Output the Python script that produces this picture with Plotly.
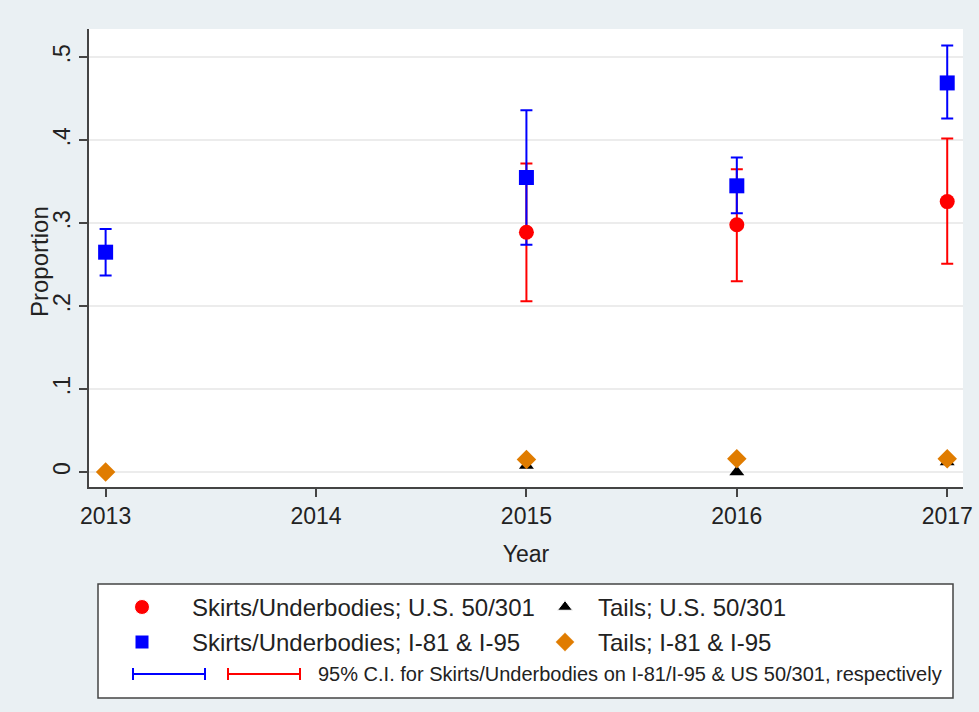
import plotly.graph_objects as go

# ---- data ----
years_blue = [2013, 2015, 2016, 2017]
skirts_i81 = [0.265, 0.355, 0.345, 0.469]
skirts_i81_lo = [0.237, 0.274, 0.312, 0.426]
skirts_i81_hi = [0.293, 0.436, 0.379, 0.514]

years_red = [2015, 2016, 2017]
skirts_us50 = [0.289, 0.298, 0.326]
skirts_us50_lo = [0.206, 0.230, 0.251]
skirts_us50_hi = [0.372, 0.365, 0.402]

years_tails_us = [2015, 2016, 2017]
tails_us50 = [0.008, 0.0, 0.012]

years_tails_i = [2013, 2015, 2016, 2017]
tails_i81 = [0.0, 0.015, 0.016, 0.016]

x_ticks = [2013, 2014, 2015, 2016, 2017]
y_ticks = [0, 0.1, 0.2, 0.3, 0.4, 0.5]
y_ticklabels = ["0", ".1", ".2", ".3", ".4", ".5"]

legend_labels = ["Skirts/Underbodies; U.S. 50/301", "Tails; U.S. 50/301",
                 "Skirts/Underbodies; I-81 & I-95", "Tails; I-81 & I-95"]
ci_label = "95% C.I. for Skirts/Underbodies on I-81/I-95 & US 50/301, respectively"

# ---- styles ----
W, H = 979, 712
RED = "#ff0000"
BLUE = "#0000ff"
ORANGE = "#e07c00"
BLACK = "#000000"
BG = "#eaf0f3"
FONT = "Liberation Sans, Arial, sans-serif"
TXT = "#222222"

def px_x(p):
    return p / W

def px_y(p):
    return 1 - p / H

# plot area in pixels
PL, PR, PT, PB = 89, 963, 29, 487
# legend box in pixels
LL, LR, LT, LB = 98, 953, 584, 698

fig = go.Figure()

def err(vals, lo, hi):
    return dict(type="data", symmetric=False,
                array=[h - v for v, h in zip(vals, hi)],
                arrayminus=[v - l for v, l in zip(vals, lo)])

# CI traces
fig.add_trace(go.Scatter(x=years_red, y=skirts_us50, mode="markers",
                         marker=dict(size=1, opacity=0), showlegend=False,
                         error_y=dict(**err(skirts_us50, skirts_us50_lo, skirts_us50_hi),
                                      color=RED, thickness=2, width=6)))
fig.add_trace(go.Scatter(x=years_blue, y=skirts_i81, mode="markers",
                         marker=dict(size=1, opacity=0), showlegend=False,
                         error_y=dict(**err(skirts_i81, skirts_i81_lo, skirts_i81_hi),
                                      color=BLUE, thickness=2, width=6)))
# markers
fig.add_trace(go.Scatter(x=years_red, y=skirts_us50, mode="markers", showlegend=False,
                         marker=dict(symbol="circle", size=15, color=RED, opacity=1)))
fig.add_trace(go.Scatter(x=years_blue, y=skirts_i81, mode="markers", showlegend=False,
                         marker=dict(symbol="square", size=15, color=BLUE, opacity=1)))
fig.add_trace(go.Scatter(x=years_tails_us, y=tails_us50, mode="markers", showlegend=False,
                         marker=dict(symbol="triangle-up", size=13, color=BLACK, opacity=1)))
fig.add_trace(go.Scatter(x=years_tails_i, y=tails_i81, mode="markers", showlegend=False,
                         marker=dict(symbol="diamond", size=15, color=ORANGE, opacity=1)))

# ---- custom legend (keys on an overlay axis measured in pixels) ----
key_x = [142, 565, 142, 565]
key_y = [607, 607, 642, 642]
key_sym = ["circle", "triangle-up", "square", "diamond"]
key_col = [RED, BLACK, BLUE, ORANGE]
key_size = [15, 13, 14, 15]
fig.add_trace(go.Scatter(x=key_x, y=key_y, xaxis="x2", yaxis="y2", mode="markers",
                         showlegend=False, hoverinfo="skip",
                         marker=dict(symbol=key_sym, color=key_col, size=key_size, opacity=1)))

text_x = [190, 596, 190, 596]
annotations = []
for tx, ty, lab in zip(text_x, key_y, legend_labels):
    annotations.append(dict(x=tx, y=ty, xref="x2", yref="y2", text=lab, showarrow=False,
                            xanchor="left", yanchor="middle",
                            font=dict(family=FONT, size=24, color=TXT)))
annotations.append(dict(x=316, y=674, xref="x2", yref="y2", text=ci_label, showarrow=False,
                        xanchor="left", yanchor="middle",
                        font=dict(family=FONT, size=20, color=TXT)))

axis_font = dict(family=FONT, size=23, color=TXT)

# y-axis title
annotations.append(dict(x=px_x(40), y=px_y(262), xref="paper", yref="paper",
                        text="Proportion", textangle=-90, showarrow=False,
                        xanchor="center", yanchor="middle",
                        font=dict(family=FONT, size=24, color=TXT)))

shapes = []
# legend box
shapes.append(dict(type="rect", xref="paper", yref="paper",
                   x0=px_x(LL), x1=px_x(LR), y0=px_y(LB), y1=px_y(LT),
                   line=dict(color="#444444", width=1.5), fillcolor="white", layer="below"))
# CI keys
for (x0, x1, col) in [(133, 205, BLUE), (228, 300, RED)]:
    shapes.append(dict(type="line", xref="x2", yref="y2", x0=x0, x1=x1, y0=674, y1=674,
                       line=dict(color=col, width=2)))
    for xc in (x0, x1):
        shapes.append(dict(type="line", xref="x2", yref="y2", x0=xc, x1=xc, y0=668, y1=680,
                           line=dict(color=col, width=2)))

fig.update_layout(
    width=W, height=H,
    margin=dict(l=0, r=0, t=0, b=0),
    paper_bgcolor=BG, plot_bgcolor="white",
    showlegend=False,
    font=dict(family=FONT, color=TXT),
    xaxis=dict(domain=[px_x(PL), px_x(PR)], range=[2012.921, 2017.075],
               tickvals=x_ticks, ticktext=[str(v) for v in x_ticks],
               ticks="outside", ticklen=8, tickwidth=1.5, tickcolor="#444444",
               showline=True, linecolor="#444444", linewidth=1.5,
               showgrid=False, zeroline=False, tickfont=axis_font,
               title=dict(text="Year", font=axis_font, standoff=18),
               automargin=False, anchor="y"),
    yaxis=dict(domain=[px_y(PB), px_y(PT)], range=[-0.018, 0.534],
               tickvals=y_ticks, ticktext=y_ticklabels, tickangle=-90,
               ticks="outside", ticklen=8, tickwidth=1.5, tickcolor="#444444",
               showline=True, linecolor="#444444", linewidth=1.5,
               showgrid=True, gridcolor="#ececec", gridwidth=1.5, zeroline=False,
               tickfont=axis_font,
               automargin=False, anchor="x"),
    xaxis2=dict(domain=[px_x(LL), px_x(LR)], range=[LL, LR], visible=False,
                fixedrange=True, anchor="y2"),
    yaxis2=dict(domain=[px_y(LB), px_y(LT)], range=[LB, LT], visible=False,
                fixedrange=True, anchor="x2"),
    annotations=annotations,
    shapes=shapes,
)

fig.write_html("out.html", config={"displayModeBar": False},
               post_script="document.body.style.margin='0px';document.body.style.overflow='hidden';")
